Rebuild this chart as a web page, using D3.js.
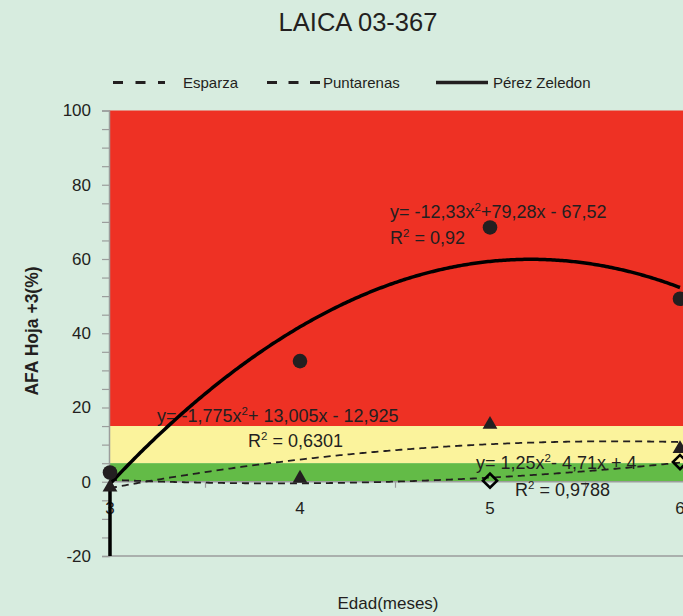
<!DOCTYPE html>
<html>
<head>
<meta charset="utf-8">
<script src="https://cdn.jsdelivr.net/npm/d3@7/dist/d3.min.js"></script>
<style>
html,body{margin:0;padding:0;background:#d7ecdf;}
svg{display:block;font-family:"Liberation Sans",Arial,Helvetica,sans-serif;}
</style>
</head>
<body>
<svg id="chart" width="683" height="616"></svg>
<script>
// ---- data ----
const months = [3, 4, 5, 6];
const perezZeledon = [2.5, 32.5, 68.5, 49.3];
const puntarenas = [-1.5, 0.9, 15.4, 8.9];
const esparza = [null, null, 0.3, 5.3];
// quadratic trend coefficients (a, b, c) in terms of point index 1..4
const perezFit = [-12.33, 79.28, -67.52];
const puntarenasFit = [-1.775, 13.005, -12.925];
const esparzaFit = [1.25, -4.71, 4];
const seriesNames = ["Esparza", "Puntarenas", "Pérez Zeledon"];
const yTicks = [-20, 0, 20, 40, 60, 80, 100];
const xTicks = [3, 4, 5, 6];
const bands = [
  {from: 15, to: 100, color: "#ee3124"},
  {from: 5, to: 15, color: "#fbf39c"},
  {from: 0, to: 5, color: "#63bb47"}
];
const equations = [
  {pre: "y= -12,33x", post: "+79,28x - 67,52", r2: "= 0,92"},
  {pre: "y= -1,775x", post: "+ 13,005x - 12,925", r2: "= 0,6301"},
  {pre: "y= 1,25x", post: "- 4,71x + 4", r2: "= 0,9788"}
];

// ---- layout ----
const W = 683, H = 616;
const svg = d3.select("#chart");
const ink = "#231f20";
const axisGray = "#9b9d9c";

const x = d3.scaleLinear().domain([3, 6]).range([110, 680]);
const y = d3.scaleLinear().domain([-20, 100]).range([556, 110.5]);
const plotLeft = 109, plotRight = W;

// background
svg.append("rect").attr("width", W).attr("height", H).attr("fill", "#d7ecdf");

// bands
svg.selectAll("rect.band").data(bands).join("rect").attr("class", "band")
  .attr("x", plotLeft).attr("width", plotRight - plotLeft)
  .attr("y", d => y(d.to)).attr("height", d => y(d.from) - y(d.to))
  .attr("fill", d => d.color);

// title
svg.append("text").attr("x", 358).attr("y", 31).attr("text-anchor", "middle")
  .attr("font-size", 25.5).attr("fill", ink).text("LAICA 03-367");

// y axis
const yAxisG = svg.append("g").attr("transform", `translate(${plotLeft},0)`)
  .call(d3.axisLeft(y).tickValues(d3.range(-20, 101, 5)).tickSize(7).tickPadding(11)
    .tickFormat(d => yTicks.includes(d) ? d : ""));
yAxisG.select(".domain").attr("stroke", axisGray).attr("stroke-width", 1.5);
yAxisG.selectAll(".tick line").attr("stroke", axisGray).attr("stroke-width", 1.2);
yAxisG.selectAll(".tick text").attr("font-size", 17).attr("fill", ink)
  .attr("font-family", "Liberation Sans, Arial, sans-serif");

// bottom border of plot
svg.append("line").attr("x1", plotLeft).attr("x2", plotRight)
  .attr("y1", y(-20)).attr("y2", y(-20)).attr("stroke", axisGray).attr("stroke-width", 1.5);

// x axis at y = 0
const xAxisG = svg.append("g").attr("transform", `translate(0,${y(0)})`)
  .call(d3.axisBottom(x).tickValues([3.5, 4.5, 5.5]).tickSize(6).tickFormat(""));
xAxisG.select(".domain").attr("stroke", axisGray).attr("stroke-width", 1.5)
  .attr("d", `M${plotLeft},0H${plotRight}`);
xAxisG.selectAll(".tick line").attr("stroke", axisGray).attr("stroke-width", 1.2);
svg.selectAll("text.xlab").data(xTicks).join("text").attr("class", "xlab")
  .attr("x", d => x(d)).attr("y", y(0) + 32).attr("text-anchor", "middle")
  .attr("font-size", 17).attr("fill", ink).text(d => d);

// axis titles
svg.append("text").attr("transform", "translate(38,331) rotate(-90)")
  .attr("text-anchor", "middle").attr("font-size", 17.5).attr("font-weight", "bold")
  .attr("fill", ink).text("AFA Hoja +3(%)");
svg.append("text").attr("x", 388).attr("y", 609).attr("text-anchor", "middle")
  .attr("font-size", 17).attr("fill", ink).text("Edad(meses)");

// equations
const eqPos = [
  {x: 390, y: 218, rx: 390, ry: 244},
  {x: 157, y: 422, rx: 248, ry: 447},
  {x: 476, y: 469, rx: 515, ry: 496}
];
equations.forEach((e, i) => {
  const p = eqPos[i];
  const t = svg.append("text").attr("x", p.x).attr("y", p.y).attr("font-size", 18).attr("fill", ink);
  t.append("tspan").text(e.pre);
  t.append("tspan").attr("dy", -7).attr("font-size", 11.5).text("2");
  t.append("tspan").attr("dy", 7).text(e.post);
  const r = svg.append("text").attr("x", p.rx).attr("y", p.ry).attr("font-size", 18).attr("fill", ink);
  r.append("tspan").text("R");
  r.append("tspan").attr("dy", -7).attr("font-size", 11.5).text("2");
  r.append("tspan").attr("dy", 7).text(" " + e.r2);
});

// trend lines
const poly = (c, idx) => c[0] * idx * idx + c[1] * idx + c[2];
function trendPts(c) {
  return d3.range(0, 301).map(k => {
    const idx = 1 + k / 100;
    return [months[0] + (idx - 1), poly(c, idx)];
  });
}
const line = d3.line().x(d => x(d[0])).y(d => y(Math.max(d[1], y.domain()[0])));
const defs = svg.append("defs");
defs.append("clipPath").attr("id", "plotclip").append("rect")
  .attr("x", plotLeft - 10).attr("y", y(100)).attr("width", W).attr("height", y(-20) - y(100));
const trendG = svg.append("g").attr("clip-path", "url(#plotclip)");

trendG.append("path").datum(trendPts(esparzaFit)).attr("d", line)
  .attr("fill", "none").attr("stroke", ink).attr("stroke-width", 1.8).attr("stroke-dasharray", "7,5");
trendG.append("path").datum(trendPts(puntarenasFit)).attr("d", line)
  .attr("fill", "none").attr("stroke", ink).attr("stroke-width", 1.8).attr("stroke-dasharray", "7,5");
const perezPts = [[months[0], y.domain()[0]]].concat(trendPts(perezFit));
trendG.append("path").datum(perezPts).attr("d", line)
  .attr("fill", "none").attr("stroke", "#000").attr("stroke-width", 3.5);

// markers
const markG = svg.append("g");
const diamond = d3.symbol().type(d3.symbolSquare).size(100);
markG.selectAll("path.esp").data(months.map((m, i) => [m, esparza[i]]).filter(d => d[1] != null)).join("path")
  .attr("class", "esp").attr("d", diamond)
  .attr("transform", d => `translate(${x(d[0])},${y(d[1])}) rotate(45)`)
  .attr("fill", "none").attr("stroke", "#000").attr("stroke-width", 2.6);
const tri = d3.symbol().type(d3.symbolTriangle).size(95);
markG.selectAll("path.pun").data(months.map((m, i) => [m, puntarenas[i]])).join("path")
  .attr("class", "pun").attr("d", tri)
  .attr("transform", d => `translate(${x(d[0])},${y(d[1])})`)
  .attr("fill", ink);
markG.selectAll("circle.per").data(months.map((m, i) => [m, perezZeledon[i]])).join("circle")
  .attr("class", "per").attr("cx", d => x(d[0])).attr("cy", d => y(d[1])).attr("r", 7.3)
  .attr("fill", ink);

// legend
const legend = [
  {name: seriesNames[0], x1: 113, x2: 165, tx: 183, dash: "10,12.5", w: 3},
  {name: seriesNames[1], x1: 267, x2: 320, tx: 323, dash: "10,11.5", w: 3},
  {name: seriesNames[2], x1: 436, x2: 488, tx: 493, dash: null, w: 3.3}
];
const lg = svg.append("g");
legend.forEach(l => {
  lg.append("line").attr("x1", l.x1).attr("x2", l.x2).attr("y1", 82.5).attr("y2", 82.5)
    .attr("stroke", ink).attr("stroke-width", l.w).attr("stroke-dasharray", l.dash);
  lg.append("text").attr("x", l.tx).attr("y", 88).attr("font-size", 15).attr("fill", ink).text(l.name);
});
</script>
</body>
</html>
